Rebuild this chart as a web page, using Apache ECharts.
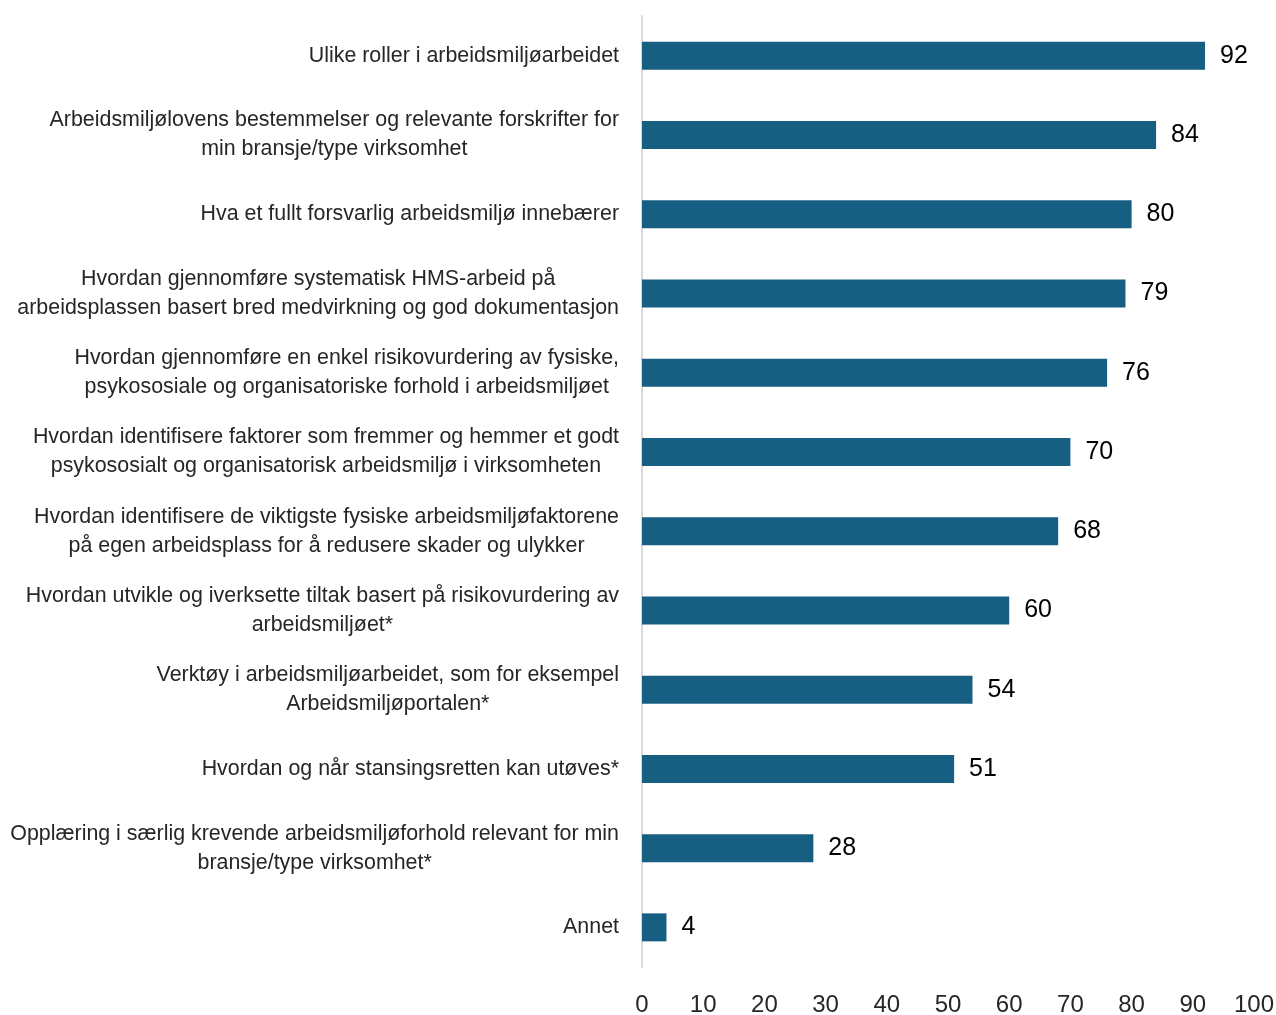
<!DOCTYPE html>
<html>
<head>
<meta charset="utf-8">
<script src="https://cdn.jsdelivr.net/npm/echarts@6/dist/echarts.min.js"></script>
<style>
  html, body { margin: 0; padding: 0; background: #ffffff; }
  #chart { width: 1276px; height: 1015px; }
</style>
</head>
<body>
<div id="chart"></div>
<script>
// Topics, listed top to bottom
const categories = [
  'Ulike roller i arbeidsmiljøarbeidet',
  'Arbeidsmiljølovens bestemmelser og relevante forskrifter for\nmin bransje/type virksomhet',
  'Hva et fullt forsvarlig arbeidsmiljø innebærer',
  'Hvordan gjennomføre systematisk HMS-arbeid på\narbeidsplassen basert bred medvirkning og god dokumentasjon',
  'Hvordan gjennomføre en enkel risikovurdering av fysiske,\npsykososiale og organisatoriske forhold i arbeidsmiljøet',
  'Hvordan identifisere faktorer som fremmer og hemmer et godt\npsykososialt og organisatorisk arbeidsmiljø i virksomheten',
  'Hvordan identifisere de viktigste fysiske arbeidsmiljøfaktorene\npå egen arbeidsplass for å redusere skader og ulykker',
  'Hvordan utvikle og iverksette tiltak basert på risikovurdering av\narbeidsmiljøet*',
  'Verktøy i arbeidsmiljøarbeidet, som for eksempel\nArbeidsmiljøportalen*',
  'Hvordan og når stansingsretten kan utøves*',
  'Opplæring i særlig krevende arbeidsmiljøforhold relevant for min\nbransje/type virksomhet*',
  'Annet'
];
const values = [92, 84, 80, 79, 76, 70, 68, 60, 54, 51, 28, 4];

const axisMin = 0;
const axisMax = 100;
const axisStep = 10;

const chart = echarts.init(document.getElementById('chart'));

// One centred rich style per category so wrapped lines centre inside the block
const rich = {};
categories.forEach((c, i) => {
  rich['c' + i] = {
    align: 'center',
    fontFamily: 'Liberation Sans, Arial, sans-serif',
    fontSize: 21.4,
    lineHeight: 29,
    color: '#262626'
  };
});

chart.setOption({
  animation: false,
  grid: {
    left: 642, right: 22, top: 16, bottom: 48,
    containLabel: false,
    outerBoundsMode: 'none'
  },
  xAxis: {
    type: 'value',
    min: axisMin,
    max: axisMax,
    interval: axisStep,
    axisLine: { show: false },
    axisTick: { show: false },
    splitLine: { show: false },
    axisLabel: {
      margin: 26,
      fontFamily: 'Liberation Sans, Arial, sans-serif',
      fontSize: 24,
      color: '#262626'
    }
  },
  yAxis: {
    type: 'category',
    inverse: true,
    data: categories,
    axisLine: { show: true, lineStyle: { color: '#d9d9d9', width: 2 } },
    axisTick: { show: false },
    axisLabel: {
      margin: 23,
      align: 'right',
      formatter: (v, i) => v.split('\n').map(l => '{c' + i + '|' + l + '}').join('\n'),
      rich: rich
    }
  },
  series: [{
    type: 'bar',
    data: values,
    barWidth: 28,
    itemStyle: { color: '#175f82' },
    label: {
      show: true,
      position: 'right',
      distance: 15,
      fontFamily: 'Liberation Sans, Arial, sans-serif',
      fontSize: 25,
      color: '#000000'
    }
  }]
});
</script>
</body>
</html>
